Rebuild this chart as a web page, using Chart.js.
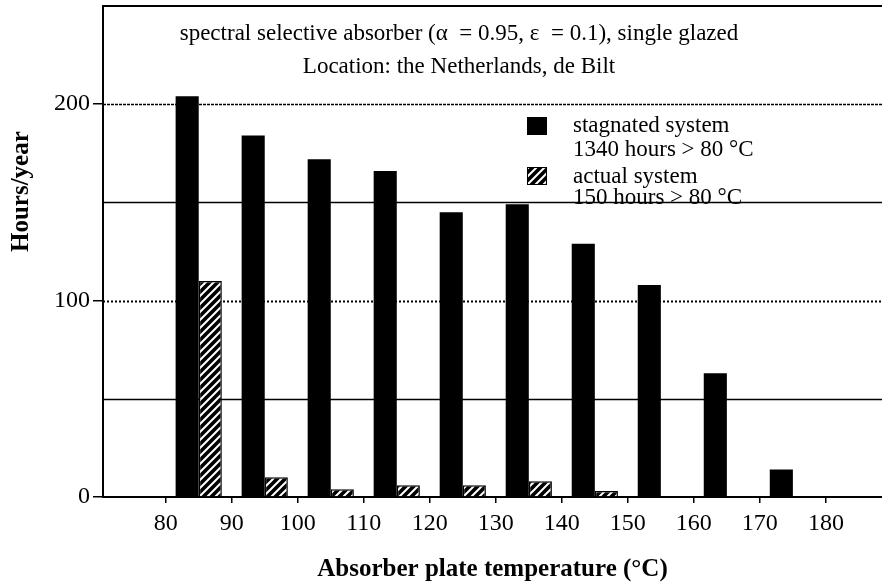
<!DOCTYPE html>
<html>
<head>
<meta charset="utf-8">
<title>Hours per year above absorber plate temperature</title>
<script src="https://cdn.jsdelivr.net/npm/chart.js@4.4.1/dist/chart.umd.min.js"></script>
<style>
  html, body { margin: 0; padding: 0; background: #fff; }
  #wrap { position: relative; width: 882px; height: 588px; }
</style>
</head>
<body>
<div id="wrap"><canvas id="chart-hours" width="882" height="588"></canvas></div>
<script>
// temperature bins (centre of each 10 °C class) and hours per year
const binCentres  = [85, 95, 105, 115, 125, 135, 145, 155, 165, 175];
const stagnated   = [204, 184, 172, 166, 145, 149, 129, 108, 63, 14];
const actual      = [110, 10, 4, 6, 6, 8, 3, null, null, null];

const xTickValues = [80, 90, 100, 110, 120, 130, 140, 150, 160, 170, 180];
const yTickValues = [0, 100, 200];
const gridValues  = [50, 100, 150, 200];

const noteLines   = [
  'spectral selective absorber (\u03B1  = 0.95, \u03B5  = 0.1), single glazed',
  'Location: the Netherlands, de Bilt',
];
const legendLines = [
  ['stagnated system', '1340 hours > 80 \u00B0C'],
  ['actual system', '150 hours > 80 \u00B0C'],
];

const SERIF = '"Liberation Serif", "DejaVu Serif", serif';

function hatchPattern(ctx) {
  const c = document.createElement('canvas');
  c.width = 8; c.height = 8;
  const g = c.getContext('2d');
  g.fillStyle = '#000';
  g.fillRect(0, 0, 8, 8);
  g.strokeStyle = '#fff';
  g.lineWidth = 2;
  g.beginPath();
  g.moveTo(-2, 10); g.lineTo(10, -2);
  g.moveTo(-2, 2);  g.lineTo(2, -2);
  g.moveTo(6, 10);  g.lineTo(10, 6);
  g.stroke();
  return ctx.createPattern(c, 'repeat');
}

// grid lines, frame, notes, legend and the y title
const paperPlugin = {
  id: 'paper',
  beforeDatasetsDraw(chart) {
    const { ctx, chartArea: a, scales: { y } } = chart;
    ctx.save();
    ctx.strokeStyle = '#000';
    gridValues.forEach(v => {
      const py = Math.round(y.getPixelForValue(v)) + 0.5;
      if (v === 100) { ctx.setLineDash([2, 2]); ctx.lineWidth = 2; }
      else if (v === 200) { ctx.setLineDash([3, 1]); ctx.lineWidth = 1.5; }
      else { ctx.setLineDash([]); ctx.lineWidth = 1.5; }
      ctx.beginPath();
      ctx.moveTo(a.left, py);
      ctx.lineTo(a.right, py);
      ctx.stroke();
    });
    ctx.setLineDash([]);
    ctx.lineWidth = 2;
    ctx.beginPath();
    ctx.moveTo(a.left, a.top);
    ctx.lineTo(a.right, a.top);
    ctx.stroke();
    ctx.restore();
  },
  afterDatasetsDraw(chart) {
    const { ctx, chartArea: a } = chart;
    ctx.save();
    ctx.fillStyle = '#000';
    ctx.textBaseline = 'middle';

    ctx.font = `23px ${SERIF}`;
    ctx.textAlign = 'center';
    ctx.fillText(noteLines[0], 459, 34);
    ctx.fillText(noteLines[1], 459, 67);

    // legend
    const fills = chart.data.datasets.map(d => d.backgroundColor);
    const boxTop = [117, 167];
    const textY = [[126, 150], [177, 198]];
    ctx.textAlign = 'left';
    legendLines.forEach((lines, i) => {
      ctx.fillStyle = fills[i];
      ctx.fillRect(527, boxTop[i], 20, 18);
      ctx.strokeStyle = '#000';
      ctx.lineWidth = 1;
      ctx.strokeRect(527.5, boxTop[i] + 0.5, 19, 17);
      ctx.fillStyle = '#000';
      lines.forEach((t, j) => ctx.fillText(t, 573, textY[i][j]));
    });

    // y axis title
    ctx.font = `bold 25px ${SERIF}`;
    ctx.textAlign = 'center';
    ctx.translate(22, a.top + (a.bottom - a.top) * 0.378);
    ctx.rotate(-Math.PI / 2);
    ctx.fillText('Hours/year', 0, 0);
    ctx.restore();
  },
};

const canvas = document.getElementById('chart-hours');
const hatch = hatchPattern(canvas.getContext('2d'));

new Chart(canvas, {
  type: 'bar',
  data: {
    datasets: [
      {
        label: 'stagnated system',
        data: binCentres.map((x, i) => ({ x, y: stagnated[i] })),
        backgroundColor: '#000',
        borderWidth: 0,
      },
      {
        label: 'actual system',
        data: binCentres.map((x, i) => ({ x, y: actual[i] })),
        backgroundColor: hatch,
        borderColor: '#000',
        borderWidth: 1.5,
      },
    ],
  },
  options: {
    responsive: false,
    animation: false,
    devicePixelRatio: 1,
    layout: { padding: { top: 6, left: 0, right: 0, bottom: 0 } },
    datasets: { bar: { categoryPercentage: 0.7, barPercentage: 1 } },
    plugins: { legend: { display: false }, tooltip: { enabled: false } },
    scales: {
      x: {
        type: 'linear',
        min: 70.5,
        max: 188.5,
        offset: false,
        afterBuildTicks: s => { s.ticks = xTickValues.map(v => ({ value: v })); },
        afterFit: s => { s.height = 91; },
        grid: { offset: false, drawOnChartArea: false, drawTicks: true, tickLength: 6, color: '#000', lineWidth: 1.5 },
        border: { color: '#000', width: 2 },
        ticks: {
          color: '#000',
          font: { family: SERIF, size: 24 },
          padding: 6,
          maxRotation: 0,
          autoSkip: false,
        },
        title: {
          display: true,
          text: 'Absorber plate temperature (\u00B0C)',
          color: '#000',
          font: { family: SERIF, size: 25, weight: 'bold' },
          padding: { top: 0, bottom: 3 },
        },
      },
      y: {
        min: 0,
        max: 250,
        afterBuildTicks: s => { s.ticks = yTickValues.map(v => ({ value: v })); },
        afterFit: s => { s.width = 103; s.paddingTop = 0; s.paddingBottom = 0; },
        grid: { drawOnChartArea: false, drawTicks: true, tickLength: 10, color: '#000', lineWidth: 1.5 },
        border: { color: '#000', width: 2 },
        ticks: {
          color: '#000',
          font: { family: SERIF, size: 24 },
          padding: 3,
        },
      },
    },
  },
  plugins: [paperPlugin],
});
</script>
</body>
</html>
